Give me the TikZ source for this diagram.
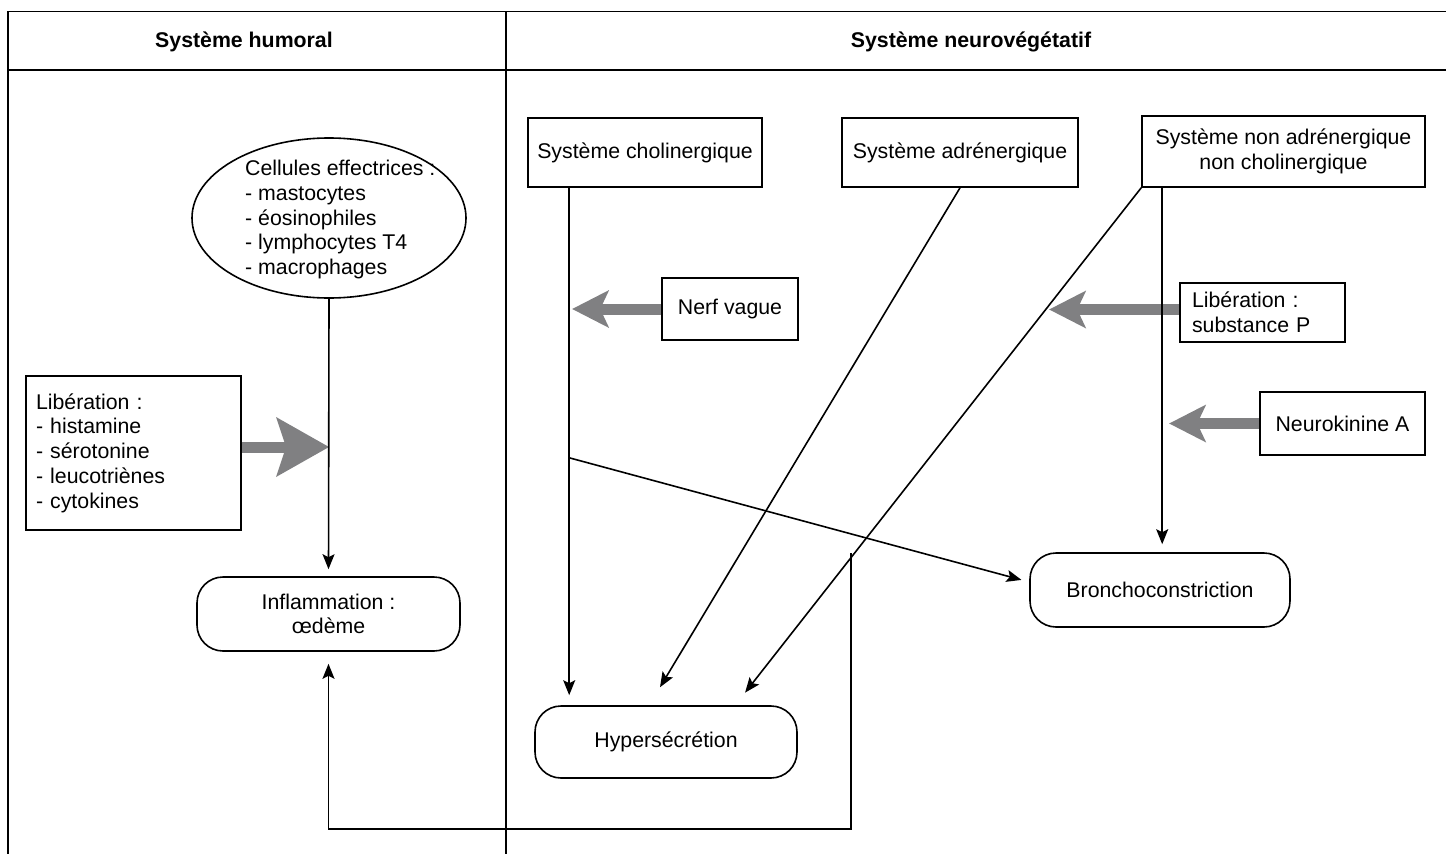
\documentclass[tikz,border=0pt]{standalone}
\usepackage{fontspec}
\setmainfont{Liberation Sans}
\usetikzlibrary{arrows.meta,shapes.geometric}
\definecolor{arrowgray}{RGB}{128,128,130}
\begin{document}
\begin{tikzpicture}[x=1pt,y=-1pt,
  txt/.style={font=\fontsize{21.3pt}{24.7pt}\selectfont},
  head/.style={font=\fontsize{21.3pt}{24.7pt}\selectfont\bfseries},
  box/.style={txt,draw,line width=1.6pt,inner sep=0pt,align=center},
  rbox/.style={box,rounded corners=26pt},
  conn/.style={line width=1.6pt,-{Stealth[length=15pt,width=12pt,inset=3pt]}},
  grayarr/.style={arrowgray,line width=11pt,-{Stealth[length=37pt,width=38pt,inset=9pt,line width=0pt]}},
  bigarr/.style={arrowgray,line width=11pt,-{Stealth[length=53pt,width=60pt,inset=10pt,line width=0pt]}},
  frame/.style={line width=1.8pt}]
\useasboundingbox (0,0) rectangle (1446,854);
% frame
\draw[frame] (1446,11.5) -- (8,11.5) -- (8,854);
\draw[frame] (8,70) -- (1446,70);
\draw[frame] (506,11.5) -- (506,854);
% headers
\node[head] (h1) at (244,42) {Système humoral};
\node[head] (h2) at (971,42) {Système neurovégétatif};
% nodes
\node[box,minimum width=234pt,minimum height=69pt] (chol) at (645,152.5) {Système cholinergique};
\node[box,minimum width=236pt,minimum height=69pt] (adr) at (960,152.5) {Système adrénergique};
\node[box,minimum width=283pt,minimum height=71pt] (nonadr) at (1283.5,151.5) {Système non adrénergique\\non cholinergique};
\node[box,minimum width=136pt,minimum height=62pt] (nerf) at (730,309) {Nerf vague};
\node[box,text width=141pt,align=left,inner xsep=12pt,minimum height=59pt] (substp) at (1262.5,312.5) {Libération :\\substance P};
\node[box,minimum width=165pt,minimum height=63pt] (neuro) at (1342.5,423.5) {Neurokinine A};
\node[box,text width=195pt,align=left,inner xsep=10pt,minimum height=154pt] (lib) at (133.5,453) {Libération :\\- histamine\\- sérotonine\\- leucotriènes\\- cytokines};
\node[draw,ellipse,line width=1.6pt,minimum width=274pt,minimum height=160pt,inner sep=0pt] (cells) at (329,218) {};
\node[txt,align=left,anchor=west,inner sep=0pt] (cellstxt) at (245,219.5) {Cellules effectrices :\\- mastocytes\\- éosinophiles\\- lymphocytes T4\\- macrophages};
\node[rbox,minimum width=263pt,minimum height=74pt] (inflam) at (328.5,614) {Inflammation :\\œdème};
\node[rbox,minimum width=262pt,minimum height=72pt] (hyper) at (666,742) {Hypersécrétion};
\node[rbox,minimum width=260pt,minimum height=74pt] (broncho) at (1160,590) {Bronchoconstriction};
% coordinates
\coordinate (cholout) at ([xshift=42pt]chol.south west);
\coordinate (nonout) at ([xshift=21pt]nonadr.south west);
\coordinate (branch) at (570,458);
\coordinate (loopstart) at (851,553);
% gray arrows
\draw[grayarr,shorten >=3pt] (nerf.west) -- (nerf.west -| cholout);
\draw[grayarr] ([yshift=3pt]substp.west) -- ([xshift=-130pt,yshift=3pt]substp.west);
\draw[grayarr,shorten >=7pt] (neuro.west) -- (neuro.west -| nonout);
\draw[bigarr] ([yshift=6pt]lib.east) -- ([yshift=6pt]lib.east -| cells.south);
% black connectors
\draw[conn,shorten >=10pt] (cholout) -- ([xshift=35pt]hyper.north west);
\draw[conn,shorten >=8pt] (branch) -- ([yshift=8pt]broncho.west);
\draw[conn,shorten >=21pt] (adr.south) -- ([xshift=115pt]hyper.north west);
\draw[conn,shorten >=16pt] (nonadr.south west) -- ([xshift=201pt]hyper.north west);
\draw[conn,shorten >=8pt] (nonout) -- (nonout |- broncho.north);
\draw[conn,shorten >=7pt] (cells.south) -- (inflam.north);
\draw[conn,shorten >=12pt] (loopstart) |- ([yshift=-177pt]inflam.south) -- (inflam.south);
\end{tikzpicture}
\end{document}
